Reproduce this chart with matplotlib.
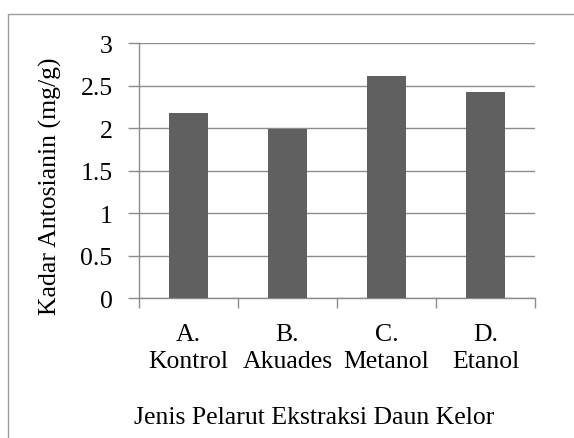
import matplotlib
matplotlib.use("Agg")
import matplotlib.pyplot as plt
from matplotlib.patches import Rectangle
import numpy as np

categories = ["A.\nKontrol", "B.\nAkuades", "C.\nMetanol", "D.\nEtanol"]
values = [2.18, 1.99, 2.62, 2.43]
y_ticks = [0, 0.5, 1, 1.5, 2, 2.5, 3]
y_tick_labels = ["0", "0.5", "1", "1.5", "2", "2.5", "3"]
x_title = "Jenis Pelarut Ekstraksi Daun Kelor"
y_title = "Kadar Antosianin (mg/g)"

plt.rcParams["font.family"] = ["Liberation Serif", "DejaVu Serif"]
FS = 18.5

W, H = 574, 439
fig = plt.figure(figsize=(W / 100, H / 100), dpi=100)

# chart-area frame, running off the right and bottom edges
fig.patches.append(Rectangle((8 / W, -0.1), 1.2, 1.1 - 15 / H,
                             transform=fig.transFigure, fill=False,
                             edgecolor="#9a9a9a", linewidth=1.0))

ax = fig.add_axes([139 / W, 1 - 299.3 / H, (535 - 139) / W, (299.3 - 44.3) / H])
x = np.arange(len(categories))
ax.bar(x, values, width=0.4, color="#606060", zorder=3)

ax.set_xlim(-0.5, len(categories) - 0.5)
ax.set_ylim(0, 3)
ax.set_yticks(y_ticks)
ax.set_yticklabels(y_tick_labels)
ax.yaxis.grid(True, color="#8c8c8c", linewidth=1.0, zorder=0)
ax.set_axisbelow(True)

ax.set_xticks(np.arange(-0.5, len(categories)))
ax.set_xticklabels([])
ax.set_xticks(x, minor=True)
ax.set_xticklabels(categories, minor=True, fontsize=FS, linespacing=1.3)
ax.tick_params(axis="x", which="minor", length=0, pad=18)
ax.tick_params(axis="x", which="major", length=7, color="#8c8c8c", width=1.0)
ax.tick_params(axis="y", length=8, color="#8c8c8c", width=1.0, labelsize=FS, pad=11)

for side in ["top", "right"]:
    ax.spines[side].set_visible(False)
for side in ["left", "bottom"]:
    ax.spines[side].set_color("#8c8c8c")
    ax.spines[side].set_linewidth(1.0)

fig.text(314 / W, 1 - 418 / H, x_title, ha="center", va="center", fontsize=FS)
fig.text(50 / W, 1 - 186 / H, y_title, ha="center", va="center",
         rotation=90, fontsize=FS)

fig.savefig("out.png", dpi=100)
